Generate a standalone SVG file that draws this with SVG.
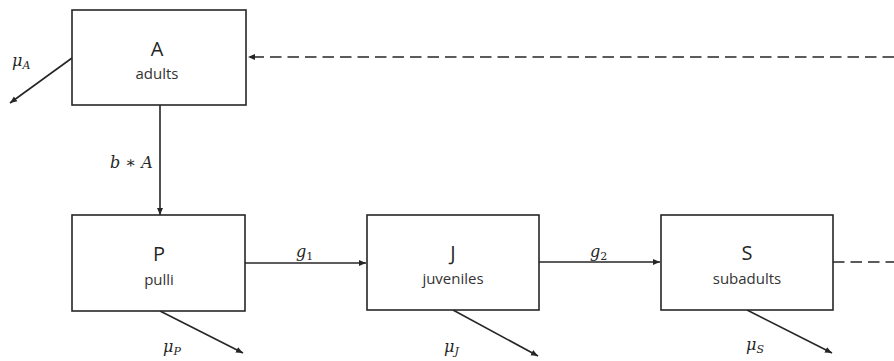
<svg xmlns="http://www.w3.org/2000/svg" width="894" height="361" viewBox="0 0 894 361">
<style>
.box{fill:#fff;stroke:#262626;stroke-width:1.6}
.t1{font-family:"Open Sans","Liberation Sans",sans-serif;font-size:20px;fill:#262626;text-anchor:middle}
.t2{font-family:"Open Sans","Liberation Sans",sans-serif;font-size:15px;fill:#333;text-anchor:middle}
.m{font-family:"DejaVu Serif","Liberation Serif",serif;font-style:italic;font-size:16px;fill:#262626}
.sub{font-size:11px}
.up{font-style:normal}
.c{stroke:#262626;stroke-width:1.6;fill:none}
.d{stroke-dasharray:11.5,6}
</style>
<defs>
<marker id="ah" markerWidth="8" markerHeight="8" refX="7" refY="4" orient="auto" markerUnits="userSpaceOnUse">
<path d="M0,1 L7,4 L0,7 Z" fill="#262626"/>
</marker>
</defs>
<g id="connectors">
<path class="c d" d="M894,57 L248,57" marker-end="url(#ah)"/>
<path class="c" d="M72,58 L10,103" marker-end="url(#ah)"/>
<path class="c" d="M160,105 L160,215" marker-end="url(#ah)"/>
<path class="c" d="M245,263 L366,263" marker-end="url(#ah)"/>
<path class="c" d="M539,262 L660,262" marker-end="url(#ah)"/>
<path class="c" d="M160,311 L243,353" marker-end="url(#ah)"/>
<path class="c" d="M453,310 L538,356" marker-end="url(#ah)"/>
<path class="c" d="M747,310 L832,353" marker-end="url(#ah)"/>
<path class="c d" d="M833,262 L894,262"/>
<text class="m" x="12" y="66">μ<tspan class="sub" dy="3">A</tspan></text>
<text class="m" x="110" y="168">b ∗ A</text>
<text class="m" x="296" y="257">g<tspan class="sub up" dy="3">1</tspan></text>
<text class="m" x="590" y="257">g<tspan class="sub up" dy="3">2</tspan></text>
<text class="m" x="163" y="352">μ<tspan class="sub" dy="3">P</tspan></text>
<text class="m" x="444" y="352">μ<tspan class="sub" dy="3">J</tspan></text>
<text class="m" x="746" y="350">μ<tspan class="sub" dy="3">S</tspan></text>
</g>
<g id="A">
<rect class="box" x="72" y="10" width="174" height="95"/>
<text class="t1" x="157" y="56">A</text>
<text class="t2" x="157" y="79">adults</text>
</g>
<g id="P">
<rect class="box" x="72" y="215" width="173" height="96"/>
<text class="t1" x="159" y="261">P</text>
<text class="t2" x="159" y="285">pulli</text>
</g>
<g id="J">
<rect class="box" x="367" y="215" width="172" height="95"/>
<text class="t1" x="453" y="260">J</text>
<text class="t2" x="453" y="284">juveniles</text>
</g>
<g id="S">
<rect class="box" x="661" y="215" width="172" height="95"/>
<text class="t1" x="747" y="260">S</text>
<text class="t2" x="747" y="284">subadults</text>
</g>
</svg>
